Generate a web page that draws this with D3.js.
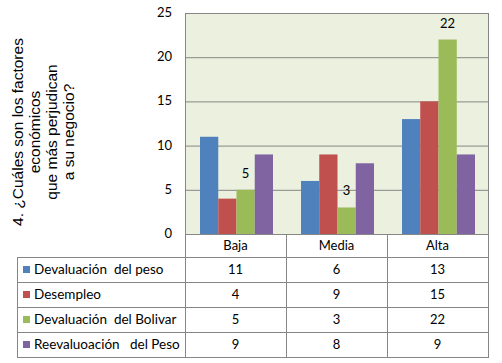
<!DOCTYPE html>
<html>
<head>
<meta charset="utf-8">
<script src="https://cdn.jsdelivr.net/npm/d3@7"></script>
<style>
  body { margin: 0; background: #fff; }
  svg text { font-family: Lato, "Liberation Sans", sans-serif; fill: #000; }
</style>
</head>
<body>
<svg width="502" height="363"></svg>
<script>
// data
var categories = ["Baja", "Media", "Alta"];
var seriesNames = ["Devaluación  del peso", "Desempleo", "Devaluación  del Bolivar", "Reevaluoación   del Peso"];
var devaluacionPeso = [11, 6, 13];
var desempleo = [4, 9, 15];
var devaluacionBolivar = [5, 3, 22];
var reevaluacionPeso = [9, 8, 9];
var yTicks = [0, 5, 10, 15, 20, 25];
var titleLines = ["4. ¿Cuáles son los factores", "económicos", "que más perjudican", "a su negocio?"];

var seriesValues = [devaluacionPeso, desempleo, devaluacionBolivar, reevaluacionPeso];
var colors = ["#4F81BD", "#C0504D", "#9BBB59", "#8064A2"];
var labeled = [false, false, true, false];

var svg = d3.select("svg");

var plotLeft = 185, plotRight = 488, plotTop = 13, plotBottom = 234;
var tableLeft = 17, rowH = 25, headerBottom = 257;

var x0 = d3.scaleBand().domain(categories).range([plotLeft, plotRight]);
var x1 = d3.scaleBand().domain(d3.range(seriesNames.length)).range([15, 88]);
var y = d3.scaleLinear().domain([0, 25]).range([plotBottom, plotTop]);

// plot background
svg.append("rect")
    .attr("x", plotLeft).attr("y", plotTop)
    .attr("width", plotRight - plotLeft).attr("height", plotBottom - plotTop)
    .attr("fill", "#EBF1DE");

// gridlines
svg.append("g").selectAll("line")
    .data(yTicks.slice(1))
    .enter().append("line")
    .attr("x1", plotLeft).attr("x2", plotRight)
    .attr("y1", d => y(d) + 0.5).attr("y2", d => y(d) + 0.5)
    .attr("stroke", "#868686").attr("stroke-width", 1);

// y tick labels
svg.append("g").selectAll("text")
    .data(yTicks)
    .enter().append("text")
    .attr("x", 172).attr("y", d => y(d) + 4)
    .attr("text-anchor", "end")
    .style("font-size", "13px")
    .text(d => d);

// bars
seriesValues.forEach(function (vals, s) {
    svg.append("g").selectAll("rect")
        .data(vals)
        .enter().append("rect")
        .attr("x", (d, i) => x0(categories[i]) + x1(s))
        .attr("y", d => y(d))
        .attr("width", x1.bandwidth())
        .attr("height", d => plotBottom - y(d))
        .attr("fill", colors[s]);
    if (labeled[s]) {
        svg.append("g").selectAll("text")
            .data(vals)
            .enter().append("text")
            .attr("x", (d, i) => x0(categories[i]) + x1(s) + x1.bandwidth() / 2)
            .attr("y", d => y(d) - 12)
            .attr("text-anchor", "middle")
            .style("font-size", "13px")
            .text(d => d);
    }
});

// plot border
svg.append("rect")
    .attr("x", plotLeft + 0.5).attr("y", plotTop + 0.5)
    .attr("width", plotRight - plotLeft).attr("height", plotBottom - plotTop)
    .attr("fill", "none").attr("stroke", "#868686");

// data table
var tableBottom = headerBottom + rowH * seriesNames.length;
var grid = svg.append("g").attr("stroke", "#868686").attr("stroke-width", 1);

// vertical lines
grid.append("line").attr("x1", tableLeft + 0.5).attr("x2", tableLeft + 0.5)
    .attr("y1", headerBottom + 0.5).attr("y2", tableBottom + 0.5);
categories.concat(["_end"]).forEach(function (c, i) {
    var xx = i < categories.length ? x0(c) : plotRight;
    grid.append("line").attr("x1", xx + 0.5).attr("x2", xx + 0.5)
        .attr("y1", plotBottom).attr("y2", tableBottom + 0.5);
});
// horizontal lines
d3.range(seriesNames.length + 1).forEach(function (r) {
    var yy = headerBottom + r * rowH + 0.5;
    grid.append("line").attr("x1", tableLeft).attr("x2", plotRight + 1)
        .attr("y1", yy).attr("y2", yy);
});

// header labels
svg.append("g").selectAll("text")
    .data(categories)
    .enter().append("text")
    .attr("x", d => x0(d) + x0.bandwidth() / 2)
    .attr("y", plotBottom + 16)
    .attr("text-anchor", "middle")
    .style("font-size", "13px")
    .text(d => d);

// rows
seriesNames.forEach(function (name, s) {
    var rowY = headerBottom + s * rowH;
    svg.append("rect")
        .attr("x", 23).attr("y", rowY + 9)
        .attr("width", 7).attr("height", 7)
        .attr("fill", colors[s]);
    svg.append("text")
        .attr("x", 34).attr("y", rowY + 17)
        .style("font-size", "13.5px")
        .style("white-space", "pre")
        .attr("xml:space", "preserve")
        .text(name);
    svg.append("g").selectAll("text")
        .data(seriesValues[s])
        .enter().append("text")
        .attr("x", (d, i) => x0(categories[i]) + x0.bandwidth() / 2)
        .attr("y", rowY + 17)
        .attr("text-anchor", "middle")
        .style("font-size", "13px")
        .text(d => d);
});

// y axis title (rotated, multi-line)
var title = svg.append("text")
    .attr("transform", "translate(17,132) rotate(-90)")
    .attr("text-anchor", "middle")
    .style("font-family", "'Liberation Sans', Arial, sans-serif")
    .style("font-size", "15.5px");
titleLines.forEach(function (line, i) {
    title.append("tspan")
        .attr("x", 0)
        .attr("y", i * 17 + 6)
        .text(line);
});
</script>
</body>
</html>
